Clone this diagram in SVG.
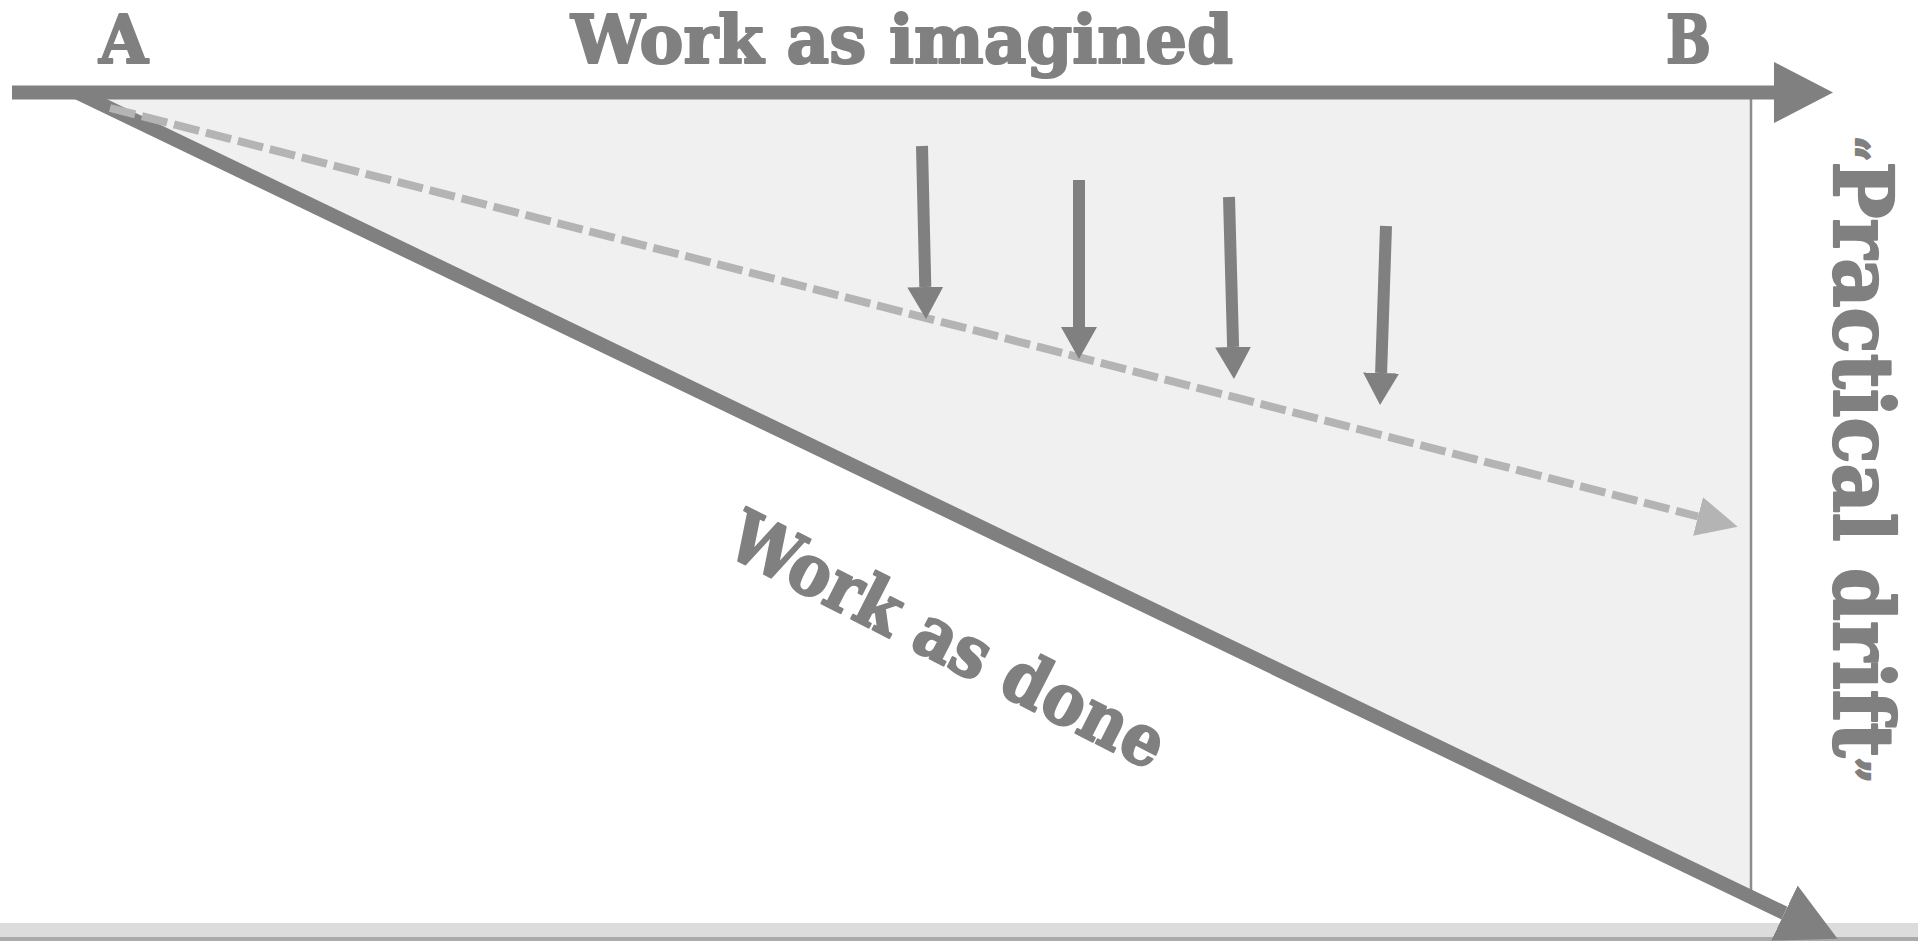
<svg xmlns="http://www.w3.org/2000/svg" width="1918" height="941" viewBox="0 0 1918 941">
  <style>
    .lbl { font-family: "DejaVu Serif", "Liberation Serif", serif; font-weight: bold; fill: #808080; stroke: #808080; stroke-width: 2.2; stroke-linejoin: round; }
    .main { stroke: #808080; fill: none; }
    .dash { stroke: #b4b4b4; fill: none; stroke-width: 8; stroke-dasharray: 26 7; }
    .push { stroke: #808080; stroke-width: 12; fill: none; marker-end: url(#headS); }
  </style>
  <defs>
    <marker id="headL" markerUnits="userSpaceOnUse" viewBox="0 -31 59 62" refX="0" refY="0" markerWidth="59" markerHeight="62" orient="auto">
      <path d="M0,-30.5 L59,0 L0,30.5 z" fill="#808080"/>
    </marker>
    <marker id="headS" markerUnits="userSpaceOnUse" viewBox="0 -18 32 36" refX="0" refY="0" markerWidth="32" markerHeight="36" orient="auto">
      <path d="M0,-18 L32,0 L0,18 z" fill="#808080"/>
    </marker>
    <marker id="headD" markerUnits="userSpaceOnUse" viewBox="0 -20 41 40" refX="0" refY="0" markerWidth="41" markerHeight="40" orient="auto">
      <path d="M0,-20 L41,0 L0,20 z" fill="#b4b4b4"/>
    </marker>
  </defs>

  <rect x="0" y="0" width="1918" height="941" fill="#ffffff"/>

  <g id="bottom-band">
    <rect x="0" y="923" width="1918" height="14" fill="#dcdcdc"/>
    <rect x="0" y="937" width="1918" height="4" fill="#aaaaaa"/>
  </g>

  <g id="drift-area">
    <polygon points="76,92 1752,92 1752,897" fill="#f0f0f0"/>
    <line x1="1751" y1="99" x2="1751" y2="893" stroke="#8c8c8c" stroke-width="2.5"/>
  </g>

  <g id="connectors">
    <line id="work-as-imagined-axis" class="main" x1="12" y1="92.5" x2="1774" y2="92.5" stroke-width="14" marker-end="url(#headL)"/>
    <line id="work-as-done-axis" class="main" x1="76" y1="92" x2="1784.4" y2="913.1" stroke-width="14" marker-end="url(#headL)"/>
    <line id="drift-line" class="dash" x1="110" y1="108" x2="1698" y2="516.5" marker-end="url(#headD)"/>
    <line class="push" x1="922" y1="146" x2="925.3" y2="287"/>
    <line class="push" x1="1079" y1="180" x2="1079" y2="327"/>
    <line class="push" x1="1229" y1="197" x2="1233.1" y2="347"/>
    <line class="push" x1="1386" y1="226" x2="1381.1" y2="373"/>
  </g>

  <g id="label-A"><text class="lbl" x="99" y="63" font-size="68" textLength="49" lengthAdjust="spacingAndGlyphs">A</text></g>
  <g id="label-B"><text class="lbl" x="1666" y="63" font-size="68" textLength="45" lengthAdjust="spacingAndGlyphs">B</text></g>
  <g id="label-wai"><text class="lbl" x="571" y="63" font-size="68" textLength="662" lengthAdjust="spacingAndGlyphs">Work as imagined</text></g>
  <g id="label-drift"><text class="lbl" transform="translate(1834,136) rotate(90)" font-size="82" textLength="647" lengthAdjust="spacingAndGlyphs"><tspan font-size="48">“</tspan>Practical drift<tspan font-size="48">”</tspan></text></g>
  <g id="label-wad"><text class="lbl" transform="translate(723,553) rotate(27)" font-size="71" textLength="480" lengthAdjust="spacingAndGlyphs">Work as done</text></g>
</svg>
